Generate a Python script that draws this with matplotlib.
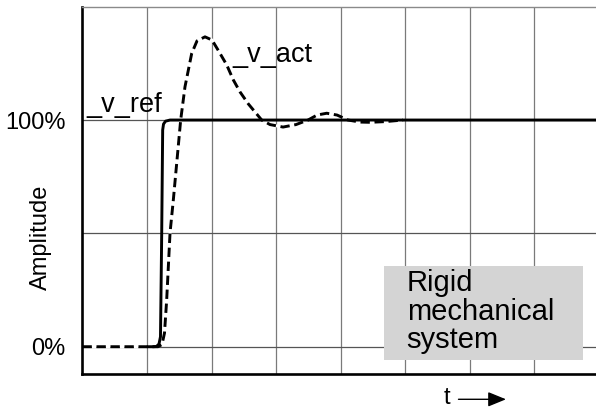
import matplotlib.pyplot as plt
from matplotlib.patches import Rectangle

plt.rcParams['font.family'] = ['Liberation Sans', 'DejaVu Sans']

# step response, time in grid divisions, amplitude as fraction of 100%
ref_t = [1.02, 1.093, 1.147, 1.186, 1.209, 1.228, 1.243, 1.256, 1.287, 1.357, 8.0]
ref_v = [0, 0, 0.001, 0.012, 0.044, 0.50, 0.956, 0.982, 0.995, 1.0, 1.0]

act_t = [0, 1.171, 1.233, 1.271, 1.305, 1.357, 1.408, 1.522, 1.589, 1.693, 1.775,
         1.899, 2.008, 2.101, 2.236, 2.338, 2.442, 2.571, 2.778, 2.907, 3.109,
         3.310, 3.496, 3.636, 3.786, 3.946, 4.116, 4.302, 4.457, 4.690, 4.969]
act_v = [0, 0, 0.010, 0.060, 0.206, 0.502, 0.647, 1.0, 1.147, 1.294, 1.349,
         1.367, 1.353, 1.309, 1.243, 1.177, 1.124, 1.071, 1.0, 0.980, 0.969,
         0.980, 1.0, 1.022, 1.030, 1.022, 1.0, 0.991, 0.990, 0.993, 1.0]

ytick_pos = [0, 1]
ytick_lbl = ['0%', '100%']

fig = plt.figure(figsize=(5.96, 4.11), dpi=100)
ax = fig.add_axes([0.1384, 0.0893, 0.8616, 0.8944])
ax.set_xlim(0, 7.96)
ax.set_ylim(-0.1217, 1.5)

for x in range(1, 8):
    ax.axvline(x, color='#7a7a7a', lw=0.9, zorder=1)
for y in [0, 0.5, 1.0]:
    ax.axhline(y, color='#555555', lw=0.9, zorder=1)

ax.plot(act_t, act_v, color='black', lw=2.1, dashes=(3.2, 1.6), gapcolor='white', zorder=3)
ax.plot(ref_t, ref_v, color='black', lw=2.1, zorder=4, solid_joinstyle='round')

ax.text(0.065, 1.037, '_v_ref', fontsize=19.5, va='baseline', ha='left', zorder=5)
ax.text(2.322, 1.257, '_v_act', fontsize=19.5, va='baseline', ha='left', zorder=5)

ax.add_patch(Rectangle((4.674, -0.0587), 3.09, 0.4147, facecolor='#d4d4d4',
                       edgecolor='none', zorder=2))
ax.text(5.026, -0.007, 'Rigid\nmechanical\nsystem', fontsize=21, va='baseline',
        ha='left', linespacing=1.03, zorder=5)

ax.set_yticks(ytick_pos)
ax.set_yticklabels(ytick_lbl, fontsize=17)
ax.set_xticks([])
ax.tick_params(axis='y', length=0, pad=12)

ax.set_ylabel('Amplitude', fontsize=17)
ax.yaxis.set_label_coords(-0.059, 0.374)

ax.spines['right'].set_visible(False)
ax.spines['top'].set_color('#8a8a8a')
ax.spines['top'].set_linewidth(1.0)
ax.spines['left'].set_linewidth(1.9)
ax.spines['bottom'].set_linewidth(1.9)

ax.text(0.71, -0.0653, 't', fontsize=17, ha='center', va='center', transform=ax.transAxes)
ax.annotate('', xy=(0.8247, -0.068), xytext=(0.7322, -0.068), xycoords='axes fraction',
            textcoords='axes fraction',
            arrowprops=dict(arrowstyle='-|>,head_length=1.1,head_width=0.45',
                            color='black', lw=1.0, shrinkA=0, shrinkB=0))

fig.savefig('out.png', dpi=100)
